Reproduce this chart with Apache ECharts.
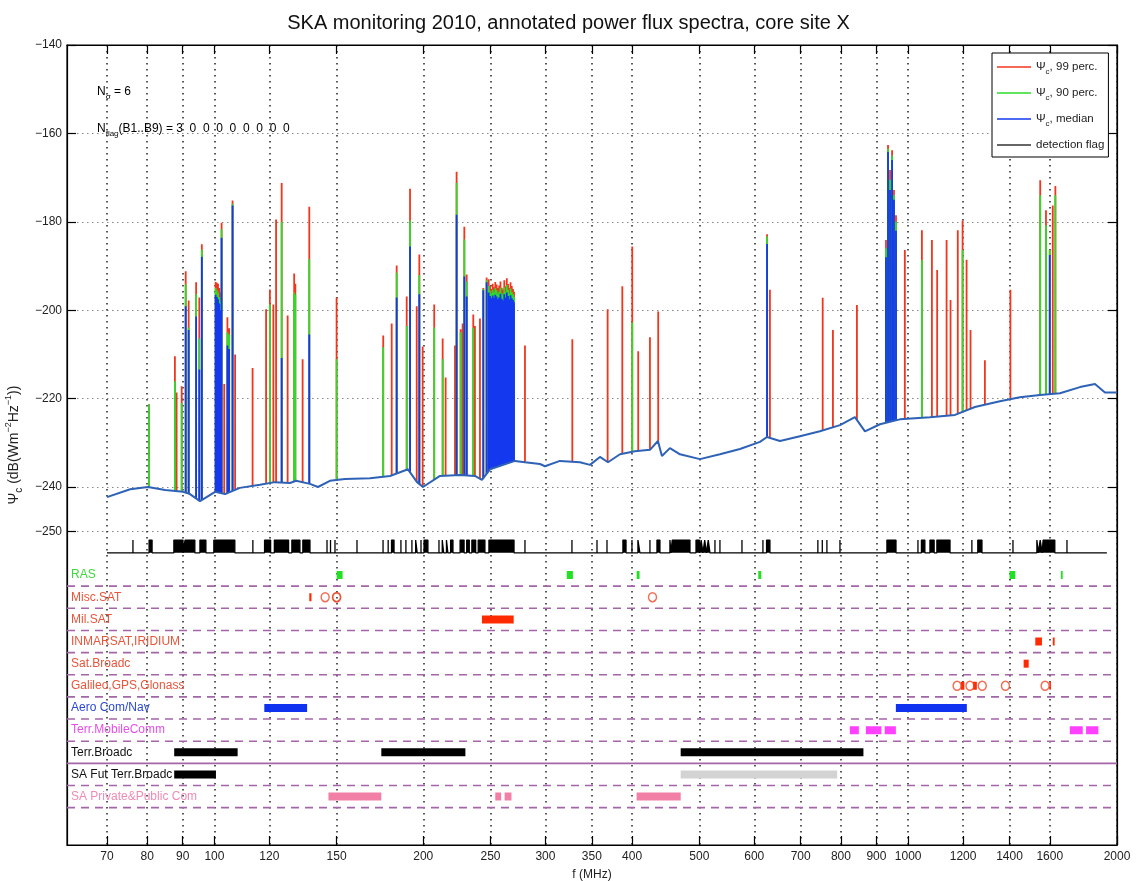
<!DOCTYPE html>
<html><head><meta charset="utf-8">
<script src="https://cdn.jsdelivr.net/npm/echarts@6/dist/echarts.min.js"></script>
<style>html,body{margin:0;padding:0;background:#fff}#c{width:1137px;height:881px}</style>
</head><body><div id="c"></div>
<script>
// ---------- tick labels ----------
const xTickLabels = [70,80,90,100,120,150,200,250,300,350,400,500,600,700,800,900,1000,1200,1400,1600,2000];
const yTickLabels = [-140,-160,-180,-200,-220,-240,-250];

// ---------- noise floor (MHz, dB) ----------
const floorFreq  = [70,75.6,80.2,84.9,90.1,92.2,95.3,96.9,100.2,103.6,108.8,116.3,122.2,128.5,131.1,137.3,141,146.7,154.2,167.6,179.1,190.1,195.9,199.8,211.4,225.9,237.4,243,249.6,271.2,280.3,294.6,299.5,314.8,336.4,347.8,359.5,369.2,384.2,403.8,424.4,435.8,441.6,453.5,468.9,501,535.4,572.2,611.5,625.8,653.4,698.2,746.1,797.4,838,866.4,910.5,973,1074.9,1168,1248,1356,1449,1548.8,1655,1768.6,1858.9,1921.6,2000];
const floorLevel = [-242.3,-240.5,-240.0,-240.7,-241.1,-241.6,-243.2,-242.5,-241.1,-241.6,-240.2,-239.5,-238.9,-239.1,-238.6,-239.3,-240.0,-238.6,-238.2,-238.0,-237.5,-236.0,-238.9,-240.0,-237.5,-237.3,-237.5,-238.4,-236.0,-234.1,-234.4,-234.8,-235.3,-234.1,-234.4,-235.0,-233.2,-234.4,-232.6,-231.9,-231.6,-229.6,-233.0,-231.2,-232.6,-233.7,-232.6,-231.4,-229.8,-228.7,-229.6,-228.5,-227.4,-226.0,-224.2,-227.4,-225.8,-224.7,-224.2,-223.7,-221.9,-220.6,-219.7,-219.2,-218.8,-217.4,-216.7,-218.6,-218.6];

// ---------- spectral peaks (MHz, dB) ----------
const spikeFreq = [80.5,87.7,88.2,89.7,90.9,91.8,94.1,95.1,95.9,100.4,100.8,101.2,101.6,102.0,102.4,103.3,104.4,105.0,106.2,107.1,113.5,118.7,120.2,121.6,122.7,125.0,127.5,130.3,130.8,134.0,137.0,150.0,
  175.1,180.1,183.1,189.3,191.4,195.7,197.4,199.6,207.4,213.3,215.4,222.2,223.4,226.4,227.9,229.2,231.0,236.1,237.4,241.4,244.1,246.8,
  248.5,249.6,250.7,251.8,252.9,254.0,255.1,256.2,257.3,258.4,259.5,260.6,261.7,262.8,263.9,265.0,266.1,267.2,268.3,269.4,270.3,
  280.3,328,368.8,387.2,400.2,408.2,424.4,436.2,
  626,632,753,779,843.6,929,935.3,941.6,948,954,960.4,989,1046.6,1082,1101,1136,1151,1179,1198,1214,1230,1290,1404,1550,1580,1600,1616,1630];
const spikeP99 = [-221.3,-210.4,-218.6,-217.2,-191.2,-197.8,-193.7,-197.1,-185.1,-193.6,-193.8,-194.0,-195.0,-196.0,-180.2,-216.7,-201.6,-204.1,-175.2,-210.0,-213.1,-199.8,-195.3,-198.7,-179.5,-171.2,-201.2,-191.7,-194.0,-211.1,-176.6,-197.1,
  -205.7,-203.0,-189.9,-196.9,-172.5,-199.1,-187.4,-208.2,-198.7,-206.4,-215.2,-208.0,-168.7,-204.3,-203.0,-181.1,-191.9,-201.0,-203.6,-201.9,-195.0,-192.6,
  -193.0,-194.5,-195.2,-194.0,-194.8,-193.6,-194.2,-195.0,-194.4,-193.5,-194.9,-195.3,-193.2,-194.6,-192.8,-194.1,-195.0,-193.7,-194.5,-195.2,-195.8,
  -208.0,-206.6,-199.8,-194.6,-185.6,-209.3,-206.1,-200.3,
  -182.8,-195.4,-197.2,-204.5,-198.8,-184.1,-162.6,-168.3,-163.8,-172.8,-178.5,-186.4,-181.9,-184.1,-190.9,-184.1,-197.7,-181.9,-179.7,-188.6,-204.5,-211.3,-195.4,-170.6,-177.4,-186.4,-176.3,-171.9];
const spikeP90 = [-221.3,-216.1,null,-221.0,-194.2,-203.9,-196.4,-206.4,-186.3,-195.0,-195.5,-196.0,-197.0,-198.0,-181.7,null,-205.0,-205.5,-175.9,null,null,null,-198.7,null,null,-180.0,null,-196.0,-196.5,null,-188.5,-211.1,
  -208.4,null,-191.5,-203.6,-179.7,null,-192.1,null,-203.9,-211.1,null,null,-171.2,-205.0,null,-184.0,-193.5,-204.0,null,null,-195.2,-193.2,
  -194.5,-195.6,-196.2,-195.4,-196.0,-195.0,-195.5,-196.3,-195.8,-194.9,-196.1,-196.5,-194.8,-195.9,-194.3,-195.4,-196.2,-195.1,-195.9,-196.4,-197.0,
  null,null,null,null,-202.8,null,null,null,
  -183.3,null,null,null,null,-186.0,-163.5,-170.5,-165.0,-174.0,-180.0,null,-188.7,null,null,null,null,null,-186.4,null,null,null,null,-174.0,-180.8,-186.4,null,-174.0];
const spikeMed = [null,null,null,null,-199.1,-204.5,-201.4,-213.4,-187.9,-196.5,-197.0,-197.5,-198.5,-200.0,-183.6,null,-208.0,-208.8,-176.3,null,null,null,null,null,null,-210.8,null,null,null,null,-205.5,null,
  null,null,-197.1,null,-185.6,null,-196.4,null,null,null,null,null,-178.4,null,null,-192.4,-196.9,null,null,null,-195.5,-193.7,
  -196.0,-196.8,-197.3,-196.7,-197.2,-196.5,-196.9,-197.5,-197.1,-196.3,-197.4,-197.8,-196.4,-197.2,-196.0,-196.8,-197.5,-196.6,-197.3,-197.7,-198.2,
  null,null,null,null,null,null,null,null,
  -185.0,null,null,null,null,-188.0,-164.2,-172.8,-166.0,-175.0,-182.0,null,null,null,null,null,null,null,null,null,null,null,null,null,null,-187.5,null,null];

// ---------- detection flags (MHz bands) ----------
const flagSpan = [70, 1934];
const flagBands = [[76.3,76.3],[80.5,81.3],[87.4,90.1],[90.7,93.7],[95.3,97.2],[99.8,107],[113.6,113.6],[118.1,120.5],[122,127.9],[129.3,132.8],[134.1,137.3],
  [145.3,145.3],[147,147],[149.2,149.2],[160.5,160.5],[175,175],[178,178],[180,181.5],[185.7,185.7],[188.8,188.8],[192.6,192.6],[195,196],[198.5,198.5],[200.5,203.1],
  [210.7,210.7],[213,214],[216,217],[219,220.7],[226,229],[231,233],[235,238],[240,245.4],[248.7,270.3],[280.3,280.3],[327.6,327.6],[356,356],[368,368],[388,392],
  [399.8,399.8],[407.8,410.5],[424.4,424.4],[434.4,438.7],[453.5,455],[457,484.7],[494.5,500],[503,506],[509,512],[515,518],[526.6,526.6],[535.4,535.4],[576,576],
  [617.5,617.5],[625,632],[741,741],[752,752],[763.6,763.6],[797.4,797.4],[931.9,960.4],[1033,1033],[1045,1057],[1075,1090],[1100,1149],[1235.5,1235.5],[1260,1277.5],
  [1416,1416],[1533,1540],[1550,1560],[1565,1627],[1694,1694]];

// ---------- allocation rows ----------
const rowNames = ['RAS','Misc.SAT','Mil.SAT','INMARSAT,IRIDIUM','Sat.Broadc','Galileo,GPS,Glonass','Aero Com/Nav','Terr.MobileComm','Terr.Broadc','SA Fut Terr.Broadc','SA Private&Public Com'];
const rowLabelColors = ['#3fd83f','#e8553a','#e8553a','#e8553a','#e8553a','#e8553a','#2a48d8','#e64ee6','#111111','#111111','#f08cb0'];
const rasBands      = [[150.05,153],[322,328.6],[406.1,410],[608,614],[1400,1427],[1660,1670]];
const miscSatBands  = [[137,138]];
const miscSatCircles= [144.4,149.95,150.05,428];
const milSatBands   = [[243,270]];
const inmarsatBands = [[1525,1559],[1616,1626]];
const satBroadcBands= [[1467,1492]];
const gnssBands     = [[1191,1205],[1240,1256],[1598,1606]];
const gnssCircles   = [1176.45,1227.6,1278.75,1381.05,1575.42];
const aeroBands     = [[118,136],[960,1215]];
const mobileBands   = [[824,849],[869,894],[880,915],[925,960],[1710,1785],[1805,1880]];
const terrBroadBands= [[87.5,108],[174,230],[470,862]];
const saFutBlack    = [[87.5,100.5]];
const saFutGrey     = [[470,790]];
const saPrivBands   = [[146,174],[254,259],[262,268],[406,470]];
const dashedSeparators = [0.5,1.5,2.5,3.5,4.5,5.5,6.5,7.5,9.5,10.5];
const solidSeparators  = [8.5];

// ---------- build ----------
const L = Math.log10;
const X_MIN = L(61.3), X_MAX = L(2000);
const FLAG_BASE = -254.9, FLAG_TOP = -252.0;
const FONT = "'Liberation Sans', Arial, Helvetica, sans-serif";

function floorAt(f){
  for (let i=0;i<floorFreq.length-1;i++){
    if (f>=floorFreq[i] && f<=floorFreq[i+1]){
      const t=(L(f)-L(floorFreq[i]))/(L(floorFreq[i+1])-L(floorFreq[i]));
      return floorLevel[i]+t*(floorLevel[i+1]-floorLevel[i]);
    }
  }
  return floorLevel[floorLevel.length-1];
}
function spikeData(vals){
  const out=[];
  spikeFreq.forEach((f,i)=>{ const v=vals[i]; if(v==null) return;
    out.push([L(f),floorAt(f)],[L(f),v],[L(f),null]); });
  return out;
}
function flagData(){
  const out=[[L(flagSpan[0]),FLAG_BASE]];
  flagBands.forEach(([a,b])=>{ out.push([L(a),FLAG_BASE],[L(a),FLAG_TOP],[L(b),FLAG_TOP],[L(b),FLAG_BASE]); });
  out.push([L(flagSpan[1]),FLAG_BASE]);
  return out;
}
function bandData(bands,row){
  const out=[];
  bands.forEach(([a,b])=>{ out.push([L(a),row],[L(b),row],[L(b),null]); });
  return out;
}
function hlineData(rows){
  const out=[];
  rows.forEach(r=>{ out.push([X_MIN,r],[X_MAX,r],[X_MAX,null]); });
  return out;
}
function bandSeries(bands,row,color,w){
  return {type:'line', xAxisIndex:2, yAxisIndex:2, data:bandData(bands,row), symbol:'none', silent:true,
    connectNulls:false, lineStyle:{color:color, width:w||8, cap:'butt'}, z:4, animation:false};
}
function circleSeries(freqs,row){
  return {type:'scatter', xAxisIndex:2, yAxisIndex:2, data:freqs.map(f=>[L(f),row]), symbol:'circle',
    symbolSize:[8,9], itemStyle:{color:'rgba(0,0,0,0)', borderColor:'#ee4a2a', borderWidth:1.5}, z:5, silent:true};
}

const sub = {fontSize:8, lineHeight:8, verticalAlign:'bottom', fontFamily:FONT, color:'#222'};
const sup = {fontSize:9, lineHeight:9, verticalAlign:'top', fontFamily:FONT, color:'#222'};
const base = {fontSize:12, lineHeight:18, fontFamily:FONT, color:'#222'};
const legBase = {fontSize:11.5, lineHeight:18, fontFamily:FONT, color:'#222'};

const legendNames = {p99:'{a|Ψ}{s|c}{a|, 99 perc.}', p90:'{a|Ψ}{s|c}{a|, 90 perc.}', med:'{a|Ψ}{s|c}{a|, median}', flag:'{a|detection flag}'};

const option = {
  animation:false,
  backgroundColor:'#fff',
  title:{text:'SKA monitoring 2010, annotated power flux spectra, core site X', left:'center', top:8,
    textStyle:{fontFamily:FONT, fontSize:20, fontWeight:'normal', color:'#111'}},
  legend:{data:['p99','p90','med','flag'], orient:'vertical', left:992, top:53,
    backgroundColor:'#fff', borderColor:'#000', borderWidth:1, padding:[8,4,6,5], itemGap:11,
    icon:'rect', itemWidth:34, itemHeight:1.5, itemTextGap:5, selectedMode:false,
    formatter:n=>legendNames[n], textStyle:{rich:{a:legBase, s:sub}}},
  grid:[
    {left:67, right:20, top:45, bottom:36, show:true, borderColor:'#000', borderWidth:1.2, backgroundColor:'transparent', outerBoundsMode:'none', containLabel:false},
    {left:67, right:20, top:564, bottom:36, show:false, outerBoundsMode:'none', containLabel:false}
  ],
  xAxis:[
    {gridIndex:0, type:'value', min:X_MIN, max:X_MAX, position:'bottom',
      axisLine:{show:true, lineStyle:{color:'#000', width:1.2}},
      axisTick:{show:true, inside:true, length:9, customValues:xTickLabels.map(L), lineStyle:{color:'#000', width:1.2}},
      axisLabel:{customValues:xTickLabels.map(L), formatter:v=>String(Math.round(Math.pow(10,v))), fontFamily:FONT, fontSize:12, color:'#222', margin:6},
      splitLine:{show:true, lineStyle:{color:'#222', width:1.5, type:[1.5,4.5]}},
      name:'f (MHz)', nameLocation:'middle', nameGap:24, nameTextStyle:{fontFamily:FONT, fontSize:12, color:'#222'}},
    {gridIndex:0, type:'value', min:X_MIN, max:X_MAX, position:'top',
      axisLine:{show:true, lineStyle:{color:'#000', width:1.2}},
      axisTick:{show:true, inside:true, length:9, customValues:xTickLabels.map(L), lineStyle:{color:'#000', width:1.2}},
      axisLabel:{show:false}, splitLine:{show:false}},
    {gridIndex:1, type:'value', min:X_MIN, max:X_MAX, show:false}
  ],
  yAxis:[
    {gridIndex:0, type:'value', min:-321, max:-140, position:'left',
      axisLine:{show:true, lineStyle:{color:'#000', width:1.2}},
      axisTick:{show:true, inside:true, length:9, customValues:yTickLabels, lineStyle:{color:'#000', width:1.2}},
      axisLabel:{customValues:yTickLabels, formatter:v=>'\u2212'+Math.abs(v), fontFamily:FONT, fontSize:12, color:'#222', margin:5},
      splitLine:{show:true, lineStyle:{color:'#888', width:1, type:[1.5,3.5]}},
      name:'{a|Ψ}{s|c}{a| (dB(Wm}{p|−2}{a|Hz}{p|−1}{a|))}', nameLocation:'middle', nameGap:43, nameRotate:90,
      nameTextStyle:{rich:{a:Object.assign({},base,{fontSize:14, lineHeight:20}), s:Object.assign({},sub,{fontSize:10,lineHeight:10}), p:sup}}},
    {gridIndex:0, type:'value', min:-321, max:-140, position:'right',
      axisLine:{show:true, lineStyle:{color:'#000', width:1.2}},
      axisTick:{show:true, inside:true, length:9, customValues:yTickLabels, lineStyle:{color:'#000', width:1.2}},
      axisLabel:{show:false}, splitLine:{show:false}},
    {gridIndex:1, type:'value', inverse:true, min:-0.5, max:12.186,
      axisLine:{show:false}, axisTick:{show:false}, splitLine:{show:false},
      axisLabel:{inside:true, margin:4, customValues:rowNames.map((_,i)=>i), formatter:v=>rowNames[Math.round(v)],
        color:(v,i)=>rowLabelColors[Math.round(+v)], fontFamily:FONT, fontSize:12}}
  ],
  graphic:[
    {type:'text', left:97, top:86, style:{text:'{a|N}{s|σ}{a| = 6}', rich:{a:base, s:sub}}},
    {type:'text', left:97, top:123, style:{text:'{a|N}{s|flag}{a|(B1..B9) = 3  0  0  0  0  0  0  0  0}', rich:{a:base, s:sub}}}
  ],
  series:[
    {name:'p99', type:'line', data:spikeData(spikeP99), symbol:'none', connectNulls:false, lineStyle:{color:'#f2361c', width:1.8}, itemStyle:{color:'#f2361c'}, z:2, silent:true},
    {name:'p90', type:'line', data:spikeData(spikeP90), symbol:'none', connectNulls:false, lineStyle:{color:'#2bdc2b', width:1.8}, itemStyle:{color:'#2bdc2b'}, z:3, silent:true},
    {name:'med', type:'line', data:spikeData(spikeMed), symbol:'none', connectNulls:false, lineStyle:{color:'#1438ee', width:1.8}, itemStyle:{color:'#1438ee'}, z:4, silent:true},
    {name:'floor', type:'line', data:floorFreq.map((f,i)=>[L(f),floorLevel[i]]), symbol:'none', lineStyle:{color:'#2e62b6', width:2}, z:5, silent:true},
    {name:'flag', type:'line', data:flagData(), symbol:'none', lineStyle:{color:'#000', width:1.3}, itemStyle:{color:'#333'},
      areaStyle:{color:'#000', opacity:1, origin:FLAG_BASE}, z:5, silent:true},
    {type:'line', xAxisIndex:2, yAxisIndex:2, data:hlineData(dashedSeparators), symbol:'none', connectNulls:false, silent:true,
      lineStyle:{color:'#a366a8', width:1.6, type:[8,6]}, z:2},
    {type:'line', xAxisIndex:2, yAxisIndex:2, data:hlineData(solidSeparators), symbol:'none', connectNulls:false, silent:true,
      lineStyle:{color:'#a366a8', width:1.6}, z:2},
    bandSeries(rasBands,0,'#22e022'),
    bandSeries(miscSatBands,1,'#ff2a00'),
    circleSeries(miscSatCircles,1),
    bandSeries(milSatBands,2,'#ff2a00'),
    bandSeries(inmarsatBands,3,'#ff2a00'),
    bandSeries(satBroadcBands,4,'#ff2a00'),
    bandSeries(gnssBands,5,'#ff2a00'),
    circleSeries(gnssCircles,5),
    bandSeries(aeroBands,6,'#0f32f0'),
    bandSeries(mobileBands,7,'#ff40ff'),
    bandSeries(terrBroadBands,8,'#000000'),
    bandSeries(saFutBlack,9,'#000000'),
    bandSeries(saFutGrey,9,'#d3d3d3'),
    bandSeries(saPrivBands,10,'#f27fa6')
  ]
};
const chart = echarts.init(document.getElementById('c'));
chart.setOption(option);
</script></body></html>
